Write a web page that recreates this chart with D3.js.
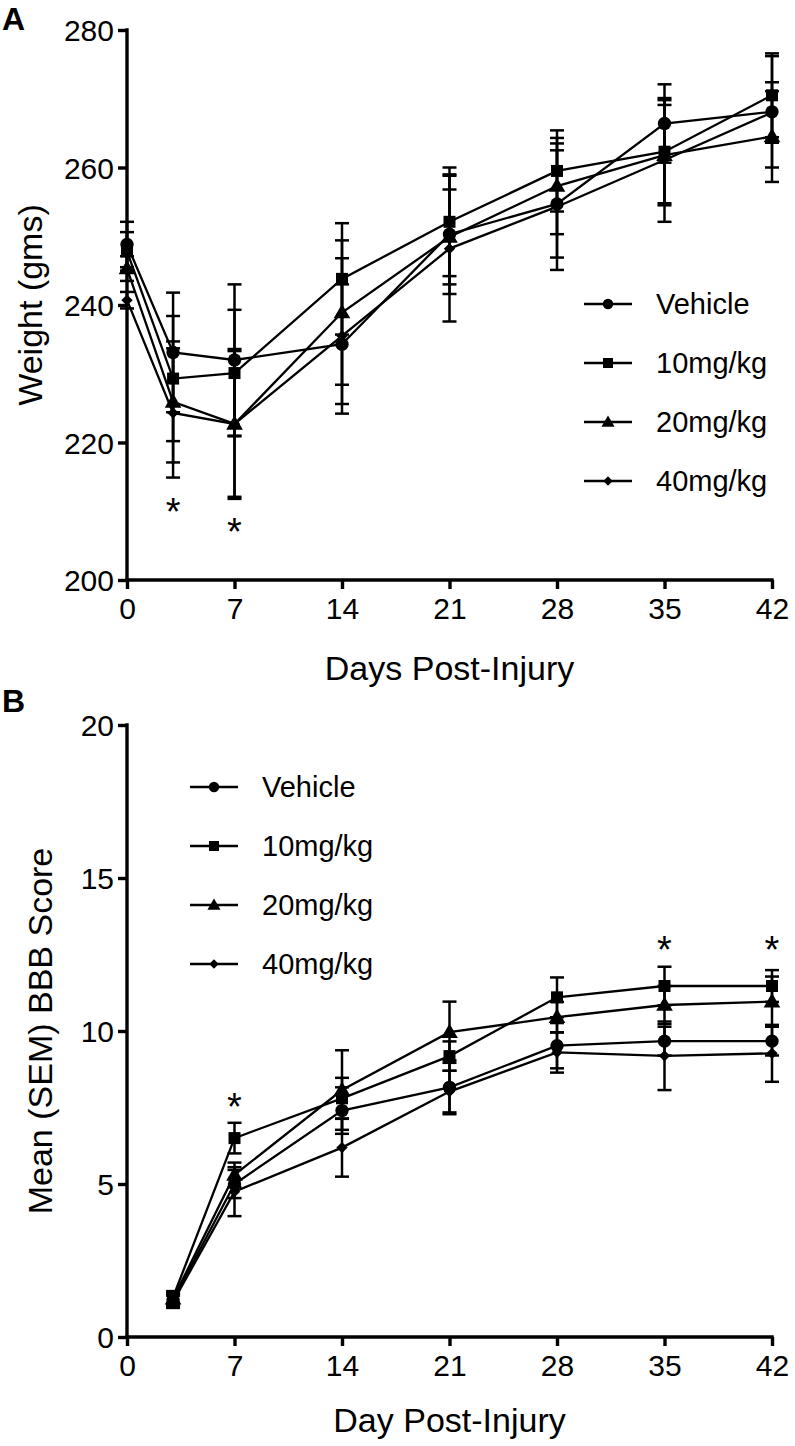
<!DOCTYPE html>
<html><head><meta charset="utf-8">
<script src="https://cdn.jsdelivr.net/npm/d3@7/dist/d3.min.js"></script>
<style>
html,body{margin:0;padding:0;background:#fff;}
svg{display:block;font-family:"Liberation Sans",Arial,Helvetica,sans-serif;}
</style></head>
<body>
<svg id="chart" width="795" height="1446"></svg>
<script>
// ---------- DATA ----------
const seriesNames = ["Vehicle", "10mg/kg", "20mg/kg", "40mg/kg"];
const seriesSymbols = ["circle", "square", "triangle", "diamond"];

// Panel A: body weight (gms)
const weightDays = [0, 3, 7, 14, 21, 28, 35, 42];
const weightVehicle    = [248.8, 233.1, 232.0, 234.3, 250.3, 254.7, 266.4, 268.1];
const weightVehicleSem = [3.3, 8.7, 11.0, 8.7, 8.7, 7.8, 5.7, 8.1];
const weight10    = [247.8, 229.3, 230.1, 243.8, 252.1, 259.5, 262.3, 270.5];
const weight10Sem = [2.8, 9.1, 9.2, 8.1, 7.9, 5.9, 7.5, 6.1];
const weight20    = [245.3, 225.9, 222.7, 238.9, 249.9, 257.3, 261.8, 264.5];
const weight20Sem = [1.8, 8.8, 10.9, 10.5, 6.9, 7.0, 7.3, 6.6];
const weight40    = [240.7, 224.3, 222.7, 235.5, 248.2, 254.3, 261.1, 268.0];
const weight40Sem = [1.2, 9.4, 10.6, 11.3, 10.6, 9.2, 9.0, 4.4];
const weightSigDays = [3, 7];
const weightSigValues = [210.9, 208.0];

// Panel B: BBB score
const bbbDays = [3, 7, 14, 21, 28, 35, 42];
const bbbVehicle    = [1.2, 5.0, 7.4, 8.16, 9.52, 9.67, 9.67];
const bbbVehicleSem = [0.2, 0.46, 0.76, 0.88, 0.74, 0.47, 0.47];
const bbb10    = [1.3, 6.5, 7.8, 9.18, 11.1, 11.47, 11.47];
const bbb10Sem = [0.2, 0.5, 0.67, 0.48, 0.65, 0.63, 0.52];
const bbb20    = [1.25, 5.3, 8.07, 9.96, 10.45, 10.85, 10.96];
const bbb20Sem = [0.2, 0.4, 1.3, 1.0, 0.5, 0.62, 0.82];
const bbb40    = [1.15, 4.75, 6.19, 8.02, 9.3, 9.19, 9.27];
const bbb40Sem = [0.2, 0.8, 0.95, 0.68, 0.66, 1.12, 0.93];
const bbbSigDays = [7, 35, 42];
const bbbSigValues = [7.75, 12.88, 12.88];

const xTicks = [0, 7, 14, 21, 28, 35, 42];
const weightTicks = [200, 220, 240, 260, 280];
const bbbTicks = [0, 5, 10, 15, 20];

// ---------- DRAWING ----------
const svg = d3.select("#chart");
const symType = {circle: d3.symbolCircle, square: d3.symbolSquare, triangle: d3.symbolTriangle, diamond: d3.symbolSquare};
const symSize = {circle: 140, square: 144, triangle: 120, diamond: 64};
const legSize = {circle: 85, square: 100, triangle: 75, diamond: 44};
function symPath(g, type, x, y, big) {
  const s = (big ? symSize : legSize)[type];
  g.append("path")
    .attr("d", d3.symbol().type(symType[type]).size(s)())
    .attr("transform", `translate(${x},${y})` + (type === "diamond" ? " rotate(45)" : "") + (type === "triangle" ? " translate(0,1)" : ""))
    .attr("fill", "#000");
}

function panel(cfg) {
  const g = svg.append("g");
  const x = d3.scaleLinear().domain([0, 42]).range([cfg.x0, cfg.x1]);
  const y = d3.scaleLinear().domain(cfg.yDomain).range([cfg.yBottom, cfg.yTop]);

  // axes
  const xa = g.append("g").attr("transform", `translate(0,${cfg.yBottom})`)
    .call(d3.axisBottom(x).tickValues(xTicks).tickSize(9).tickPadding(9).tickSizeOuter(0));
  const ya = g.append("g").attr("transform", `translate(${cfg.x0},0)`)
    .call(d3.axisLeft(y).tickValues(cfg.yTicks).tickSize(9).tickPadding(4).tickSizeOuter(0));
  [xa, ya].forEach(a => {
    a.selectAll("path.domain").attr("stroke", "#000").attr("stroke-width", 3.4);
    a.selectAll(".tick line").attr("stroke", "#000").attr("stroke-width", 3.4);
    a.selectAll(".tick text").attr("fill", "#000").attr("font-size", 30)
      .attr("font-family", "'Liberation Sans', Arial, sans-serif");
  });
  xa.select("path.domain").attr("d", `M${cfg.x0 - 1.7},0H${cfg.x1 + 1.7}`);
  ya.select("path.domain").attr("d", `M0,${cfg.yTop - 1.7}V${cfg.yBottom + 1.7}`);
  ya.selectAll(".tick text").attr("dy", "0.36em");

  // axis titles
  g.append("text").attr("x", (cfg.x0 + cfg.x1) / 2).attr("y", cfg.xTitleY)
    .attr("text-anchor", "middle").attr("font-size", 34).text(cfg.xTitle);
  g.append("text").attr("transform", `translate(${cfg.yTitleX},${(cfg.yTop + cfg.yBottom) / 2}) rotate(-90)`)
    .attr("text-anchor", "middle").attr("font-size", 34).text(cfg.yTitle);

  // panel letter
  g.append("text").attr("x", 2).attr("y", cfg.letterY).attr("font-size", 32)
    .attr("font-weight", "bold").text(cfg.letter);

  // series
  cfg.series.forEach((s, i) => {
    const pts = cfg.days.map((d, k) => ({d, v: s.values[k], e: s.sem[k]}));
    const eg = g.append("g").attr("stroke", "#000").attr("stroke-width", 2.5);
    pts.forEach(p => {
      const px = x(p.d), hi = y(p.v + p.e), lo = y(p.v - p.e);
      eg.append("line").attr("x1", px).attr("x2", px).attr("y1", hi).attr("y2", lo);
      eg.append("line").attr("x1", px - 7).attr("x2", px + 7).attr("y1", hi).attr("y2", hi);
      eg.append("line").attr("x1", px - 7).attr("x2", px + 7).attr("y1", lo).attr("y2", lo);
    });
    g.append("path").datum(pts)
      .attr("d", d3.line().x(p => x(p.d)).y(p => y(p.v)))
      .attr("fill", "none").attr("stroke", "#000").attr("stroke-width", 2.3);
    const mg = g.append("g");
    pts.forEach(p => symPath(mg, seriesSymbols[i], x(p.d), y(p.v), true));
  });

  // significance
  cfg.sigDays.forEach((d, k) => {
    g.append("text").attr("x", x(d)).attr("y", y(cfg.sigValues[k]) + 20)
      .attr("text-anchor", "middle").attr("font-size", 38).text("*");
  });

  // legend
  seriesNames.forEach((n, i) => {
    const ly = cfg.legY + i * cfg.legStep;
    const lg = g.append("g");
    lg.append("line").attr("x1", cfg.legX).attr("x2", cfg.legX + cfg.legLen).attr("y1", ly).attr("y2", ly)
      .attr("stroke", "#000").attr("stroke-width", 2.3);
    symPath(lg, seriesSymbols[i], cfg.legX + cfg.legLen / 2, ly, false);
    lg.append("text").attr("x", cfg.legX + cfg.legTextDx).attr("y", ly + 10).attr("font-size", 29).text(n);
  });
}

panel({
  letter: "A", letterY: 30,
  x0: 127, x1: 772, yTop: 30, yBottom: 580, yDomain: [200, 280], yTicks: weightTicks,
  days: weightDays,
  series: [
    {values: weightVehicle, sem: weightVehicleSem},
    {values: weight10, sem: weight10Sem},
    {values: weight20, sem: weight20Sem},
    {values: weight40, sem: weight40Sem}
  ],
  sigDays: weightSigDays, sigValues: weightSigValues,
  xTitle: "Days Post-Injury", xTitleY: 680, yTitle: "Weight (gms)", yTitleX: 42,
  legX: 584, legY: 304, legStep: 59, legLen: 48, legTextDx: 72
});

panel({
  letter: "B", letterY: 712,
  x0: 127, x1: 772, yTop: 725, yBottom: 1337, yDomain: [0, 20], yTicks: bbbTicks,
  days: bbbDays,
  series: [
    {values: bbbVehicle, sem: bbbVehicleSem},
    {values: bbb10, sem: bbb10Sem},
    {values: bbb20, sem: bbb20Sem},
    {values: bbb40, sem: bbb40Sem}
  ],
  sigDays: bbbSigDays, sigValues: bbbSigValues,
  xTitle: "Day Post-Injury", xTitleY: 1432, yTitle: "Mean (SEM) BBB Score", yTitleX: 52,
  legX: 190, legY: 787, legStep: 59, legLen: 48, legTextDx: 72
});
</script>
</body></html>
